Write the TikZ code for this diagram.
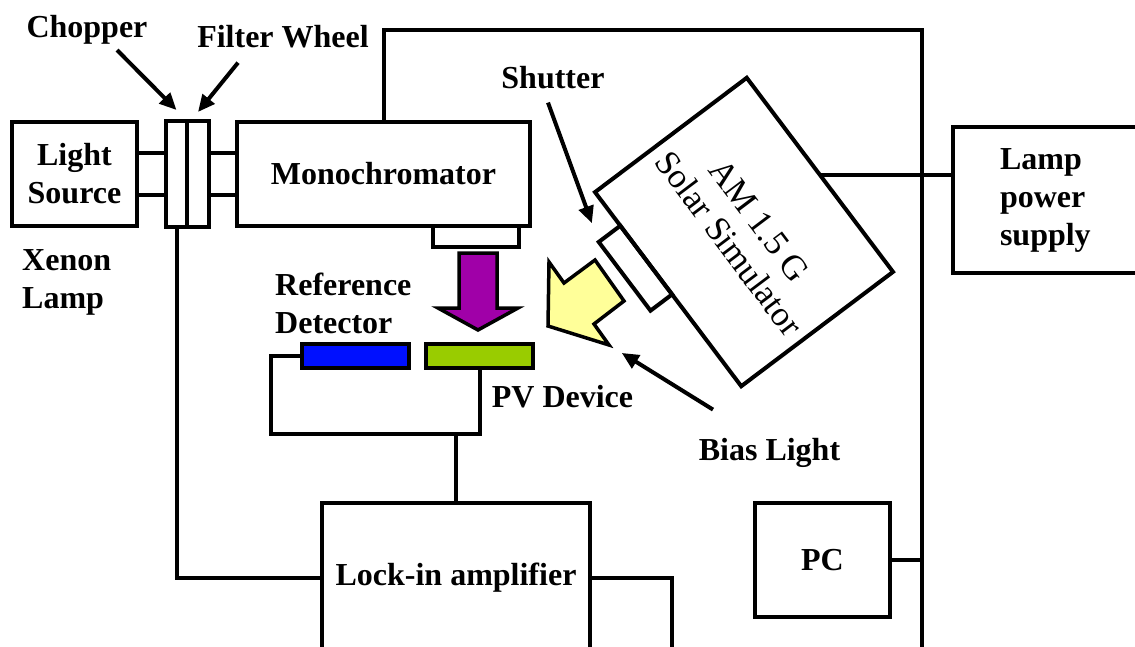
\documentclass[tikz,border=0pt]{standalone}
\usepackage{fontspec}
\setmainfont{Liberation Serif}
\usetikzlibrary{
  positioning,
  arrows.meta,
  calc
}
\definecolor{beam}{HTML}{A000A8}
\definecolor{bias}{HTML}{FFFF99}
\definecolor{refdet}{HTML}{0010FF}
\definecolor{pvcell}{HTML}{99CC00}
\newcommand{\lblfont}{\fontsize{32}{38}\selectfont\bfseries}

\begin{document}
\begin{tikzpicture}[
  x=1pt, y=-1pt,
  unit/.style={draw, line width=4pt, inner sep=0pt, outer sep=0pt, align=center, font=\lblfont},
  tag/.style={inner sep=0pt, font=\lblfont},
  bar/.style={draw, line width=4pt, inner sep=0pt, outer sep=0pt, minimum width=107pt, minimum height=24pt},
  wire/.style={line width=4pt},
  pointer/.style={line width=4pt, -{Triangle[length=17pt, width=15pt]}},
  block/.style={draw, line width=3.5pt, line join=miter}
]
  \useasboundingbox (0,0) rectangle (1135,646);
  \clip (0,0) rectangle (1135,646);

  % optics bench
  \node[unit, minimum width=125pt, minimum height=104pt] (src) at (74.5,174) {Light\\Source};
  \node[unit, minimum width=21pt, minimum height=106pt] (chop) at (176.5,174) {};
  \node[unit, minimum width=22pt, minimum height=106pt, right=0pt of chop] (filt) {};
  \node[unit, minimum width=293pt, minimum height=104pt] (mono) at (383.5,174) {Monochromator};
  \node[unit, minimum width=86pt, minimum height=21pt] (slit) at (476,236.5) {};
  \node[bar, fill=refdet] (ref) at (355.5,356) {};
  \node[bar, fill=pvcell, right=17pt of ref] (pv) {};

  % solar simulator
  \node[unit, rotate=-53, minimum width=243pt, minimum height=190pt, font=\fontsize{35}{38}\selectfont] (sim) at (744,232) {AM 1.5 G\\Solar Simulator};
  \node[unit, rotate=-53, minimum width=86pt, minimum height=27pt, anchor=north] (shut) at ($(sim.south)!0.3!(sim.south west)$) {};
  \node[unit, anchor=west, minimum height=146pt, text width=150pt, inner xsep=47pt, align=left] (lamp) at (953,200) {Lamp\\power\\supply};

  % electronics
  \node[unit, minimum width=268pt, minimum height=150pt] (lockin) at (456,578) {Lock-in amplifier};
  \node[unit, minimum width=135pt, minimum height=114pt] (pc) at (822.5,560) {PC};

  % labels
  \node[tag, anchor=base] (chopl) at (87,37) {Chopper};
  \node[tag, anchor=base] (fwl) at (283,47) {Filter Wheel};
  \node[tag, anchor=base] (shutl) at (553,88) {Shutter};
  \node[tag, anchor=base] (pvl) at (562.5,407) {PV Device};
  \node[tag, anchor=base] (biasl) at (769.5,460) {Bias Light};
  \node[tag, anchor=west, align=left] (xenl) at (22,282) {Xenon\\Lamp};
  \node[tag, anchor=west, align=left] (refl) at (275,303) {Reference\\Detector};

  % light beams
  \draw[block, fill=beam] (459,253) -- (497,253) -- (497,308) -- (518,308) -- (478,330) -- (438,308) -- (459,308) -- cycle;
  \draw[block, fill=bias] (548,326) -- (549,262) -- (564,283) -- (595,260) -- (624,301) -- (594,324) -- (609,345) coordinate (yhead) -- cycle;

  % wiring
  \coordinate (loop) at (271,434);
  \coordinate (railtop) at (922,30);
  \coordinate (railbot) at (922,660);
  \coordinate (sigout) at (672,660);
  \foreach \dy in {21pt,-21pt} {
    \draw[wire] ([yshift=\dy]src.east) -- ([yshift=\dy]chop.west);
    \draw[wire] ([yshift=\dy]filt.east) -- ([yshift=\dy]mono.west);
  }
  \draw[wire] (mono.north) |- (railtop) -- (railbot);
  \draw[wire] (chop.south) |- (lockin.west);
  \draw[wire] (ref.west) -| (loop) -| (pv.south);
  \draw[wire] (lockin.north) -- (lockin.north |- loop);
  \draw[wire] (lockin.east) -| (sigout);
  \draw[wire] (pc.east) -- (pc.east -| railtop);
  \draw[wire] (sim.north) -- (sim.north -| lamp.west);

  % pointers
  \draw[pointer] ([shift={(30pt,-6pt)}]chopl.south) -- ([yshift=11pt]chop.north);
  \draw[pointer] ([shift={(-45pt,-15pt)}]fwl.south) -- ([yshift=9pt]filt.north);
  \draw[pointer, shorten >=20pt] ([shift={(-5pt,-14pt)}]shutl.south) -- (shut.south west);
  \draw[pointer, shorten >=15pt] ([shift={(-56.5pt,28pt)}]biasl.north) -- (yhead);
\end{tikzpicture}
\end{document}
